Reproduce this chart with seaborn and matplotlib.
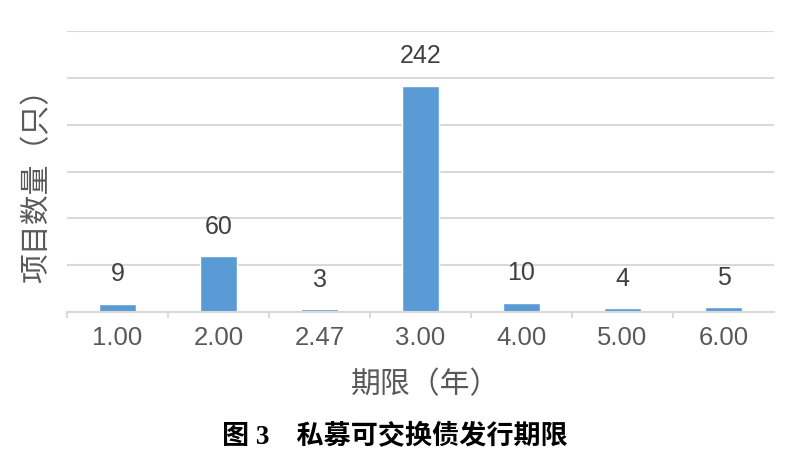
import matplotlib
matplotlib.use('Agg')
import matplotlib.pyplot as plt
import seaborn as sns
import pandas as pd
from matplotlib.ticker import FixedLocator, MultipleLocator

# data
terms = ['1.00', '2.00', '2.47', '3.00', '4.00', '5.00', '6.00']
counts = [9, 60, 3, 242, 10, 4, 5]

df = pd.DataFrame({'term': terms, 'count': counts})

sns.set_theme(style='white')
plt.rcParams['font.family'] = ['Liberation Sans', 'Noto Sans CJK SC', 'DejaVu Sans']

fig = plt.figure(figsize=(8.02, 4.63), dpi=100)
ax = fig.add_axes([67 / 802, 1 - 312 / 463, (774 - 67) / 802, (312 - 31) / 463])

sns.barplot(data=df, x='term', y='count', color='#5B9BD5', width=0.37,
            saturation=1, ax=ax, zorder=3)

ax.set_ylim(0, 300.5)
ax.set_xlim(-0.5, len(terms) - 0.5)
ax.yaxis.set_major_locator(MultipleLocator(50))
ax.grid(axis='y', color='#D9D9D9', linewidth=1.5, zorder=0)
ax.set_yticklabels([])
ax.tick_params(axis='y', length=0)

for s in ['left', 'top', 'right']:
    ax.spines[s].set_visible(False)
ax.spines['bottom'].set_color('#D9D9D9')
ax.spines['bottom'].set_linewidth(1.5)
ax.spines['bottom'].set_zorder(4)

# category boundary ticks
ax.xaxis.set_minor_locator(FixedLocator([i - 0.5 for i in range(len(terms))]))
ax.tick_params(axis='x', which='minor', bottom=True, length=4, width=1.5, color='#D9D9D9')
ax.tick_params(axis='x', which='major', length=0, pad=10, labelsize=18.5, labelcolor='#595959')

for i, v in enumerate(counts):
    ax.annotate(str(v), (i, v), xytext=(0, 16), textcoords='offset points',
                ha='center', va='baseline', fontsize=18, color='#404040')

ax.set_xlabel('期限（年）', fontsize=21.5, color='#595959')
ax.set_ylabel('项目数量（只）', fontsize=21.5, color='#595959')
ax.xaxis.label.set_va('center')
ax.yaxis.label.set_va('center')
ax.xaxis.set_label_coords((426 - 67) / 707, (312 - 385) / 281)
ax.yaxis.set_label_coords((37 - 67) / 707, (312 - 178) / 281)

fig.text(395 / 802, 1 - 436 / 463, '图 3　私募可交换债发行期限', ha='center', va='center',
         fontsize=19.5, fontweight='bold', color='black',
         family=['Liberation Serif', 'Noto Sans CJK SC'])

fig.savefig('out.png', dpi=100, facecolor='white')
